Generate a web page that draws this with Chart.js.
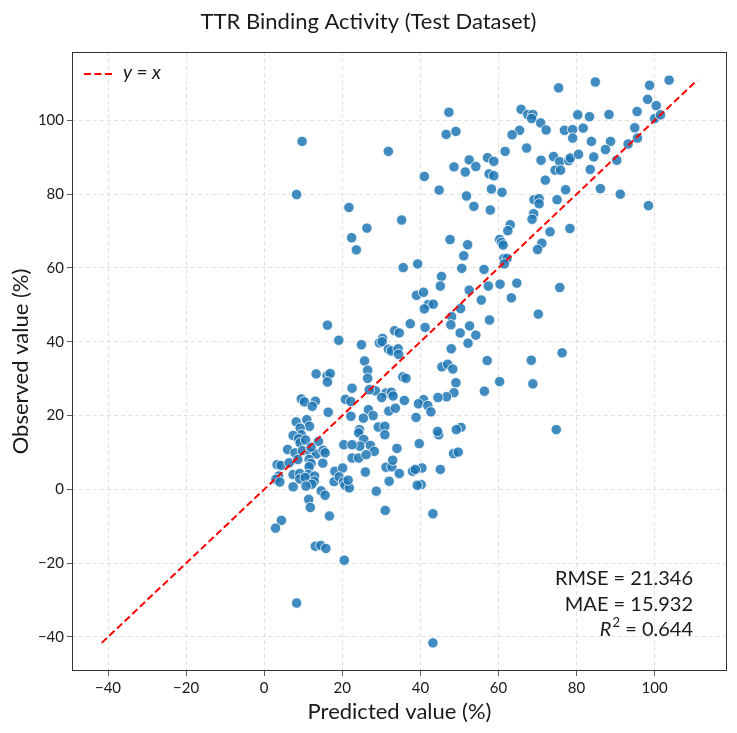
<!DOCTYPE html>
<html>
<head>
<meta charset="utf-8">
<script src="https://cdn.jsdelivr.net/npm/chart.js@4"></script>
<style>
  html, body { margin: 0; padding: 0; background: #fff; }
  #wrap { width: 737px; height: 733px; }
</style>
</head>
<body>
<div id="wrap"><canvas id="chart" width="737" height="733"></canvas></div>
<script>
const predicted = [
  75.4, 84.8, 103.7, 98.7, 98.2, 100.4, 100, 101.5, 95.5, 88.3, 83.3, 80.3, 65.8, 67.5, 68.8, 68.5,
  70.8, 72.2, 65.4, 76.9, 79, 79, 81.7, 94.9, 83.8, 88.7, 95.6, 93.2, 87.4, 67.2, 74.1, 70.9,
  75.7, 78, 78.4, 80.5, 84.4, 90.3, 74.5, 75.9, 83.5, 72, 77.2, 86.1, 91.2, 69.1, 70.4, 70.4,
  75, 98.4, 69, 68.6, 73.2, 78.3, 71.1, 70,
  47.3, 46.6, 49.1, 63.5, 61.7, 52.5, 57.2, 58.8, 48.6, 51.5, 54.2, 57.6, 58.8, 41, 44.8, 58.2,
  60.9, 51.8, 53.7, 57.9, 35.2, 63, 62.4, 47.6, 52.1, 51.1, 60.3, 60.8, 61.2, 61.4, 62.2,
  9.7, 31.8,
  8.3, 21.7, 26.3, 22.4, 23.6, 35.6, 39.3, 39, 37.4, 16.2, 19.1, 24.9, 33.4, 34.6, 30.3, 29.5,
  30.2, 31.8, 32.6, 34.3, 34.4, 25.7, 26.5, 26.5, 13.3, 16.1, 16.9, 35.5, 36.3,
  61.5, 50.6, 56.3, 45.4, 45.1, 60.4, 64.7, 57.4, 52.5, 75.7, 40.8, 55.6, 63.3, 42, 43.3, 41,
  50.3, 48, 70.2, 57.7, 41.2, 47.8, 52.6, 50.2, 54.2, 52.2, 47.9, 76.3, 57.1, 68.4, 45.5, 47,
  48.3, 49.1, 60.3, 68.8, 48.6, 46.7, 44.5, 56.4, 35.9, 40.8, 39.5, 41.9, 42.7, 38.9, 50.4, 49.2,
  74.8,
  44.7, 39.7, 48.5, 49.7, 40.4, 45.1, 40.2, 43.2, 43.2,
  13.1, 14.5, 15.8, 20.5, 8.3,
  16.2, 22.5, 28.5, 31.2, 32.6, 33, 20.8, 22.2, 9.5, 10.3, 13.1, 12.3, 16.4, 26.7, 27.9, 25.4,
  29.2, 30.9, 31.9, 22.2, 8.2, 10.9, 11.6, 9.2, 9.5, 7.4, 24.4, 24.2, 25.5, 24.5, 30.9, 8.8,
  9.2, 10.6, 13.9, 20.4, 22.5, 27.2, 28.2, 34, 6, 7.9, 9.8, 11.8, 13.4, 15.1, 15.6, 22.5,
  24.2, 26.1, 3.3, 4.3, 6.4, 8.6, 11.5, 12, 11.5, 15, 31.2, 32.7, 34.6, 25.9, 18.1, 20.1,
  7.4, 9.1, 11.3, 12.9, 3.7, 3, 4, 9.1, 10.5, 12.8, 12.2, 10.7, 17.9, 19.2, 20.3, 20.7,
  21.8, 21.5, 7.4, 14.6, 15.6, 11.4, 11.8, 28.7, 31, 16.7, 4.4, 2.9, 38, 38.7, 39.2,
  26.9, 30.1, 33.6, 32.9, 32, 44.4, 12
];
const observed = [
  108.8, 110.4, 110.9, 109.5, 105.7, 104, 100.5, 101.5, 102.4, 101.6, 101, 101.5, 103, 101.6, 101.6, 100.5,
  99.3, 97.4, 97.3, 97.3, 97.5, 95.2, 97.9, 98, 94.3, 94.3, 95.2, 93.6, 92.1, 92.5, 90.2, 89.2,
  88.8, 89.1, 89.8, 90.8, 90.1, 89.2, 86.5, 86.5, 86.7, 83.8, 81.2, 81.5, 80, 78.5, 78.8, 77.4,
  78.5, 76.9, 74.7, 73.2, 69.8, 70.7, 66.7, 65,
  102.2, 96.2, 97, 96.1, 91.6, 89.3, 89.9, 88.9, 87.4, 86, 87.5, 85.5, 85, 84.8, 81.1, 81.4,
  80.5, 79.5, 76.7, 75.7, 73, 71.7, 70.1, 67.7, 66.3, 63.3, 67.7, 66.9, 66.2, 62.6, 62.6,
  94.3, 91.6,
  79.9, 76.4, 70.8, 68.2, 64.9, 60.1, 61.1, 52.6, 44.9, 44.5, 40.4, 39.2, 43, 42.4, 40.9, 39.7,
  40, 38, 37.5, 38.1, 36.6, 34.8, 32.3, 30.1, 31.3, 30.8, 31.4, 30.5, 30.1,
  61.1, 59.9, 59.6, 57.7, 55.1, 55.6, 55.9, 55.1, 54, 54.7, 53.4, 51.3, 51.9, 50.1, 50.2, 48.9,
  49, 46.8, 47.5, 45.9, 43.9, 44.6, 44.3, 42.4, 41.8, 39.6, 38.1, 37, 34.9, 35, 33.2, 33.9,
  32.6, 28.9, 29.2, 28.6, 26.2, 25.1, 24.9, 26.6, 24.1, 24.3, 23.2, 22.7, 21, 19.5, 16.8, 16.2,
  16.2,
  14.8, 12.4, 9.7, 10.1, 5.8, 5.4, 1.3, -6.6, -41.6,
  -15.4, -15.2, -16, -19.2, -30.8,
  29.1, 27.4, 26.7, 26.1, 26.3, 25.3, 24.4, 23.8, 24.5, 23.7, 23.9, 22.5, 20.9, 21.6, 20, 19.3,
  16.9, 17.1, 21.2, 19.8, 18.3, 18.9, 17.1, 16.6, 14.8, 14.6, 16.2, 15.3, 13.5, 11.7, 14.8, 13.7,
  12.6, 13.4, 13, 12.1, 12.1, 11.9, 10.3, 11.1, 10.8, 9.9, 10.5, 9.9, 9.6, 10.6, 9.9, 8.5,
  8.5, 9.4, 6.7, 6.5, 7.2, 8.1, 8.1, 7, 6.1, 7.1, 6, 6.1, 4.3, 4.7, 4.9, 5.8,
  4, 4.3, 4, 3.6, 3.6, 2.7, 2, 2.8, 3.2, 2.2, 1.4, 0.9, 2.1, 3.4, 2, 1.1,
  0.4, 2.5, 0.7, -0.4, -1.6, -2.7, -4.9, -0.5, -5.7, -7.2, -8.4, -10.5, 4.9, 5.4, 1.1,
  27, 24.9, 22, 7.9, 2.2, 15.7, 11.4
];
const xTicks = [-40, -20, 0, 20, 40, 60, 80, 100];
const yTicks = [-40, -20, 0, 20, 40, 60, 80, 100];
const metrics = { rmse: '21.346', mae: '15.932', r2: '0.644' };

const FONT = 'Lato, "Noto Sans", sans-serif';

const points = predicted.map((x, i) => ({ x: x, y: observed[i] }));
const lo = Math.min(...predicted, ...observed);
const hi = Math.max(...predicted, ...observed);
const pad = (hi - lo) * 0.05;

const fmt = v => (v < 0 ? '\u2212' + Math.abs(v) : String(v));

const decor = {
  id: 'decor',
  afterDraw(chart) {
    const { ctx, chartArea: a } = chart;
    ctx.save();
    // frame
    ctx.strokeStyle = '#333';
    ctx.lineWidth = 1;
    ctx.strokeRect(a.left + 0.5, a.top + 0.5, a.right - a.left - 1, a.bottom - a.top - 1);

    ctx.fillStyle = '#1a1a1a';
    // title
    ctx.font = '22px ' + FONT;
    ctx.textAlign = 'center';
    ctx.textBaseline = 'middle';
    ctx.fillText('TTR Binding Activity (Test Dataset)', chart.width / 2, 22);

    // axis titles
    ctx.font = '22px ' + FONT;
    ctx.fillText('Predicted value (%)', (a.left + a.right) / 2, 712);
    ctx.save();
    ctx.translate(21, (a.top + a.bottom) / 2);
    ctx.rotate(-Math.PI / 2);
    ctx.fillText('Observed value (%)', 0, 0);
    ctx.restore();

    // legend
    ctx.strokeStyle = '#ff0000';
    ctx.lineWidth = 2;
    ctx.setLineDash([7, 3.5]);
    ctx.beginPath();
    ctx.moveTo(a.left + 12, a.top + 22);
    ctx.lineTo(a.left + 42, a.top + 22);
    ctx.stroke();
    ctx.setLineDash([]);
    ctx.textAlign = 'left';
    ctx.font = 'italic 19px ' + FONT;
    ctx.fillText('y = x', a.left + 51, a.top + 21);

    // metrics box
    const rx = a.right - 34;
    ctx.textAlign = 'right';
    ctx.font = '20px ' + FONT;
    ctx.fillText('RMSE = ' + metrics.rmse, rx, 579);
    ctx.fillText('MAE = ' + metrics.mae, rx, 605);
    const tail = ' = ' + metrics.r2;
    ctx.fillText(tail, rx, 630);
    let w = ctx.measureText(tail).width;
    ctx.font = '13px ' + FONT;
    ctx.fillText('2', rx - w, 623);
    w += ctx.measureText('2').width + 1;
    ctx.font = 'italic 20px ' + FONT;
    ctx.fillText('R', rx - w, 630);
    ctx.restore();
  }
};

const axisCommon = (ticks) => ({
  type: 'linear',
  min: lo - pad,
  max: hi + pad,
  afterBuildTicks: s => { s.ticks = ticks.map(v => ({ value: v })); },
  grid: {
    color: '#d9d9d9',
    lineWidth: 0.8,
    tickColor: '#333',
    tickLength: 5,
    drawTicks: true
  },
  border: { display: false, dash: [4, 3] },
  ticks: {
    color: '#1a1a1a',
    font: { family: FONT, size: 15 },
    padding: 3,
    callback: v => fmt(v)
  }
});

new Chart(document.getElementById('chart').getContext('2d'), {
  type: 'scatter',
  data: {
    datasets: [
      {
        label: 'y = x',
        type: 'line',
        data: [{ x: lo, y: lo }, { x: hi, y: hi }],
        borderColor: '#ff0000',
        borderWidth: 2,
        borderDash: [7, 3.5],
        pointRadius: 0,
        fill: false,
        order: 0
      },
      {
        label: 'Test',
        data: points,
        backgroundColor: 'rgba(31,119,180,0.85)',
        borderColor: '#ffffff',
        borderWidth: 0.8,
        pointRadius: 5.2,
        order: 1
      }
    ]
  },
  options: {
    responsive: false,
    animation: false,
    devicePixelRatio: 1,
    layout: { padding: { top: 52, right: 10, left: 0, bottom: 0 } },
    plugins: { legend: { display: false }, tooltip: { enabled: false }, title: { display: false } },
    scales: {
      x: Object.assign(axisCommon(xTicks), { afterFit: s => { s.height = 62; } }),
      y: Object.assign(axisCommon(yTicks), { afterFit: s => { s.width = 72; } })
    }
  },
  plugins: [decor]
});
</script>
</body>
</html>
